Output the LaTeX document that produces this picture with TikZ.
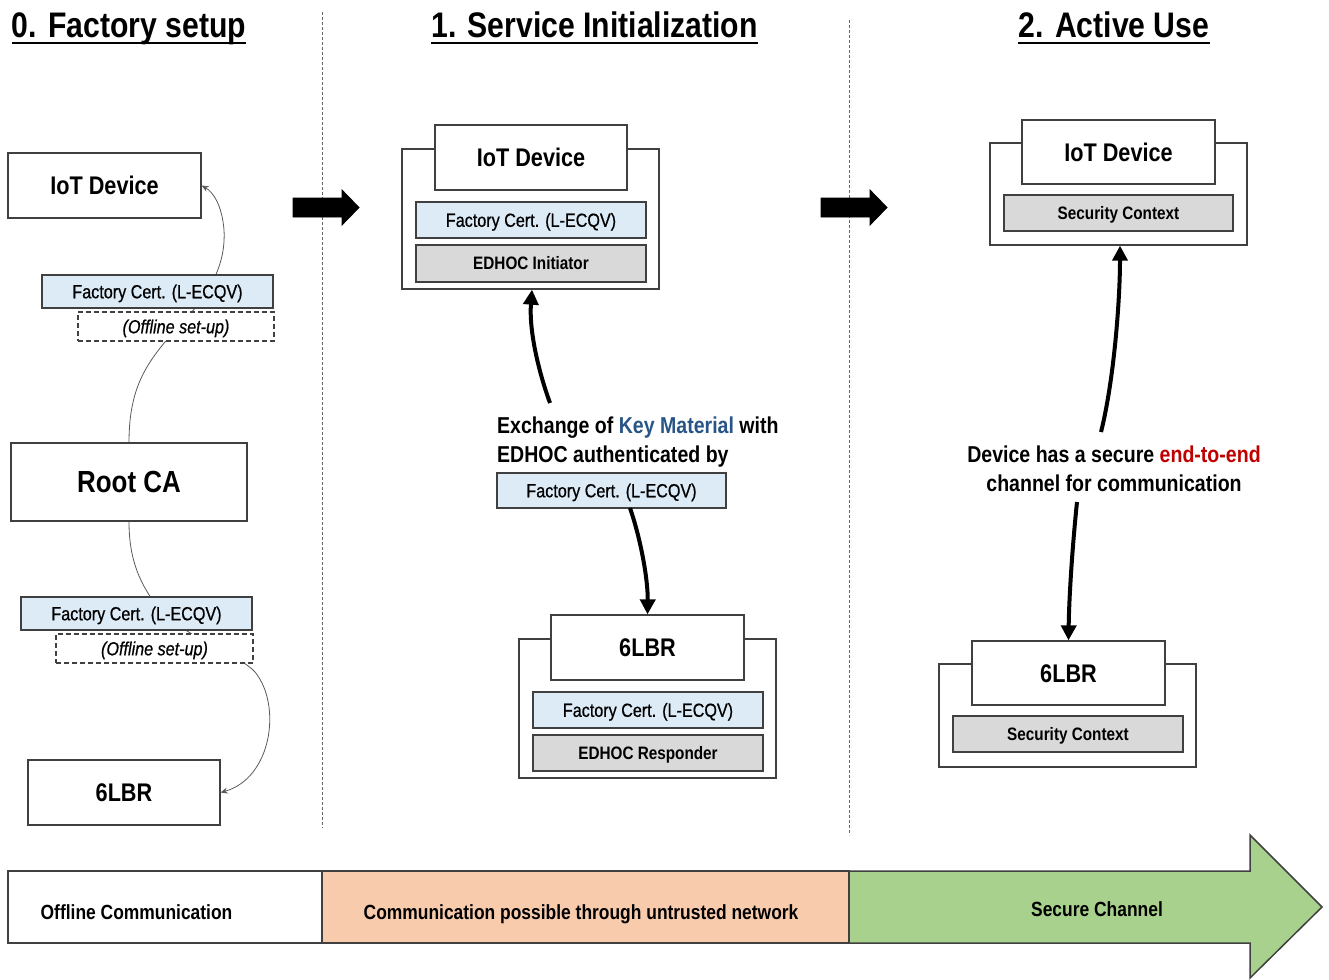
\documentclass[tikz,border=0pt]{standalone}
\usepackage{fontspec}
\setmainfont[FakeStretch=0.85]{Liberation Sans}
\newfontfamily\medfont[FakeStretch=0.85,FakeBold=0.6]{Liberation Sans}
\usetikzlibrary{arrows.meta,backgrounds}
\definecolor{certblue}{RGB}{221,235,247}
\definecolor{boxgray}{RGB}{217,217,217}
\definecolor{bdr}{RGB}{64,64,64}
\definecolor{salmon}{RGB}{248,203,173}
\definecolor{grn}{RGB}{169,209,142}
\definecolor{keyblue}{RGB}{40,85,135}
\definecolor{e2ered}{RGB}{192,0,0}
\tikzset{
 bx/.style={draw=bdr, line width=1.3pt, fill=white, inner sep=0pt, text depth=0pt},
 dev/.style={bx, font=\fontsize{25.5}{30}\selectfont\bfseries, text height=18.3pt, minimum width=193, minimum height=65},
 cert/.style={bx, fill=certblue, font=\fontsize{19}{22}\selectfont\medfont, text height=13.6pt, minimum width=230, minimum height=35},
 grayb/.style={bx, fill=boxgray, font=\fontsize{18}{22}\selectfont\bfseries, text height=12.9pt, minimum width=230, minimum height=36},
 offl/.style={bx, dash pattern=on 5pt off 3pt, line width=1.1pt, font=\fontsize{19}{22}\selectfont\medfont\itshape, text height=13.6pt, minimum width=197, minimum height=29},
 outerb/.style={draw=bdr, line width=1.3pt, inner sep=0pt, minimum width=257},
 thinc/.style={draw=black!65, line width=0.8pt, -{Stealth[length=7pt,width=6pt]}},
 thickc/.style={line width=4pt, -{Triangle[length=15pt,width=15pt]}},
 head/.style={font=\fontsize{35.5}{40}\selectfont\bfseries, inner sep=0pt},
 lab/.style={font=\fontsize{23}{27}\selectfont\bfseries, inner sep=0pt},
 bartext/.style={font=\fontsize{20.5}{24}\selectfont\bfseries, inner sep=0pt, text height=14.7pt, text depth=0pt},
 divider/.style={draw=black!60, line width=0.7pt, dash pattern=on 3pt off 2pt},
 blockarrow/.style={fill=black, draw=black, line width=0.8pt},
 barbox/.style={draw=bdr, line width=1.5pt, inner sep=0pt, minimum height=72},
}
\begin{document}
\begin{tikzpicture}[x=1pt,y=-1pt]
\useasboundingbox (0,0) rectangle (1329,979);

% headings
\node[head, anchor=base] (h0) at (129,38) {0. Factory setup};
\node[head, anchor=base] (h1) at (594.5,38) {1. Service Initialization};
\node[head, anchor=base] (h2) at (1114,38) {2. Active Use};
\foreach \h in {h0,h1,h2}
  \draw[line width=2pt] ([yshift=-5pt]\h.base west) -- ([yshift=-5pt]\h.base east);

% dividers
\draw[divider] (322,12) -- (322,828);
\draw[divider] (849,20) -- (849,835);

% left column
\node[dev] (iot0) at (104.5,185.5) {IoT Device};
\node[cert, minimum width=231, minimum height=33] (cert0a) at (157.5,291.5) {Factory Cert. (L-ECQV)};
\node[offl, minimum width=196] (off0a) at (176,326.5) {(Offline set-up)};
\node[bx, font=\fontsize{30.5}{34}\selectfont\bfseries, text height=21.8pt, minimum width=236, minimum height=78] (root) at (129,482) {Root CA};
\node[cert, minimum width=231, minimum height=33] (cert0b) at (136.5,613.5) {Factory Cert. (L-ECQV)};
\node[offl] (off0b) at (154.5,648.5) {(Offline set-up)};
\node[dev, minimum width=192] (lbr0) at (124,792.5) {6LBR};

\begin{scope}[on background layer]
\draw[thinc] (root.north) .. controls (129,385) and (148,360) .. (180,325)
   .. controls (212,292) and (226,262) .. (224,230)
   .. controls (222,205) and (213,192) .. (iot0.east);
\draw[thinc] (root.south) .. controls (129,560) and (140,585) .. (160,610)
   .. controls (190,640) and (240,655) .. (255,672)
   .. controls (282,705) and (272,778) .. (lbr0.east);
\end{scope}

% block arrows
\draw[blockarrow] (293,198) -- (342,198) -- (342,190) -- (359,207.5) -- (342,225) -- (342,217) -- (293,217) -- cycle;
\draw[blockarrow] (821,198) -- (870,198) -- (870,190) -- (887,207.5) -- (870,225) -- (870,217) -- (821,217) -- cycle;

% middle column
\node[outerb, minimum height=140] (outer1) at (530.5,219) {};
\node[dev, minimum width=192] (iot1) at (531,157.5) {IoT Device};
\node[cert, minimum height=36] (cert1) at (531,220) {Factory Cert. (L-ECQV)};
\node[grayb, minimum height=37] (init1) at (531,263.5) {EDHOC Initiator};

\node[lab, anchor=base west] (ex1) at (497,433) {Exchange of \textcolor{keyblue}{Key Material} with};
\node[lab, anchor=base west] (ex2) at (497,462) {EDHOC authenticated by};
\node[cert, minimum width=229] (certmid) at (611.5,490.5) {Factory Cert. (L-ECQV)};

\node[outerb, minimum height=139] (outer2) at (647.5,708.5) {};
\node[dev] (lbr1) at (647.5,647.5) {6LBR};
\node[cert, minimum height=36] (cert2) at (648,710) {Factory Cert. (L-ECQV)};
\node[grayb] (resp) at (648,753) {EDHOC Responder};

\coordinate (a1s) at (550,403);
\draw[thickc] (a1s) .. controls (538,370) and (529,330) .. ([xshift=1.5pt]outer1.south);
\coordinate (a2s) at (630,508);
\draw[thickc] (a2s) .. controls (641,540) and (648,580) .. (lbr1.north);

% right column
\node[outerb, minimum height=102] (outer3) at (1118.5,194) {};
\node[dev, minimum height=64] (iot2) at (1118.5,152) {IoT Device};
\node[grayb, minimum width=229] (sec1) at (1118.5,213) {Security Context};

\node[lab, anchor=base] (dv1) at (1114,462) {Device has a secure \textcolor{e2ered}{end-to-end}};
\node[lab, anchor=base] (dv2) at (1114,491) {channel for communication};

\node[outerb, minimum height=103] (outer4) at (1067.5,715.5) {};
\node[dev, minimum height=64] (lbr2) at (1068.5,673) {6LBR};
\node[grayb] (sec2) at (1068,734) {Security Context};

\coordinate (a3s) at (1101,432);
\draw[thickc] (a3s) .. controls (1114,380) and (1120,300) .. ([xshift=1.5pt]outer3.south);
\coordinate (a4s) at (1077,502);
\draw[thickc] (a4s) .. controls (1072,550) and (1069,600) .. (lbr2.north);

% bottom bar
\draw[fill=grn, draw=bdr, line width=1.5pt] (849,871) -- (1250,871) -- (1250,835) -- (1322,907) -- (1250,978) -- (1250,943) -- (849,943);
\node[barbox, fill=white, minimum width=314] (bar0) at (165,907) {};
\node[barbox, fill=salmon, minimum width=527] (bar1) at (585.5,907) {};
\node[bartext] (bar0t) at (136.5,912) {Offline Communication};
\node[bartext] (bar1t) at (581,912) {Communication possible through untrusted network};
\node[bartext] (bar2t) at (1097,909) {Secure Channel};
\end{tikzpicture}
\end{document}
